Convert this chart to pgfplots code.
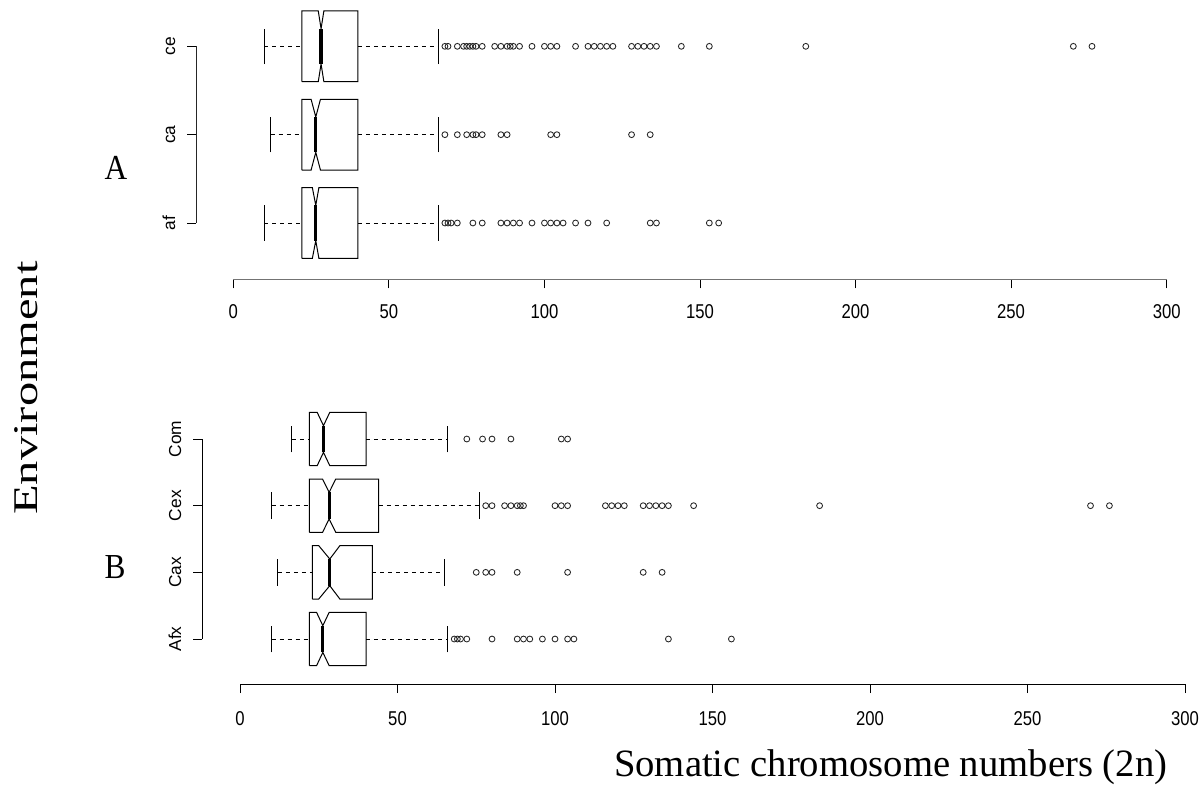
\documentclass[border=0pt]{standalone}
\usepackage{fontspec}
\setmainfont{Liberation Serif}
\setsansfont{Liberation Sans}
\usepackage{pgfplots}
\pgfplotsset{compat=1.18}
\pgfplotsset{
  rax/.style={
    axis x line*=bottom, axis y line*=left,
    axis line style={draw=none},
    xtick={0,50,100,150,200,250,300},
    tick align=outside, major tick length=6.75pt,
    tick style={black, line width=0.75pt},
    /pgf/number format/assume math mode=true,
    xticklabel style={font=\sffamily\fontsize{12.5}{15}\selectfont, anchor=base, yscale=1.2, inner sep=0pt},
    yticklabel style={font=\sffamily\fontsize{13}{15}\selectfont, xshift=-9pt, rotate=90, anchor=base, inner sep=0pt},
    clip=false,
  },
  boxl/.style={black, line width=0.75pt, no markers},
  medl/.style={black, line width=2.4pt, no markers},
  whl/.style={black, line width=0.75pt, dash pattern=on 3pt off 3pt, no markers},
  outl/.style={only marks, mark=o, mark size=2.2pt, mark options={black!85, line width=0.65pt, solid}},
}
\begin{document}
\begin{tikzpicture}
\path (0pt,0pt) rectangle (900.75pt,-588pt);

% ---------------- Panel A ----------------
\begin{axis}[rax,
  at={(147.0pt,-209.475pt)}, anchor=south west,
  x=2.3333pt, y=66.25pt,
  xmin=-12, xmax=305, ymin=0.3626, ymax=3.5,
  ytick={1,2,3}, yticklabels={af,ca,ce},
  xticklabel style={yshift=-18.75pt},
]
\draw[black!55, line width=1.2pt] (axis cs:0,0.3626) -- (axis cs:300,0.3626);
\draw[black!85, line width=0.75pt] (axis cs:-12,1) -- (axis cs:-12,3);
% ce (y=3)
\addplot[whl] coordinates {(10,3) (22,3)};
\addplot[whl] coordinates {(40,3) (66,3)};
\addplot[boxl] coordinates {(10,2.8) (10,3.2)};
\addplot[boxl] coordinates {(66,2.8) (66,3.2)};
\addplot[boxl] coordinates {(22,2.6) (27.3,2.6) (28.2,2.8) (29.1,2.6) (40,2.6) (40,3.4) (29.1,3.4) (28.2,3.2) (27.3,3.4) (22,3.4) (22,2.6)};
\addplot[medl] coordinates {(28.2,2.8) (28.2,3.2)};
\addplot[outl] coordinates {(68,3) (69,3) (72,3) (74,3) (75,3) (76,3) (77,3) (78,3) (80,3) (84,3) (86,3) (88,3) (89,3) (90,3) (92,3) (96,3) (100,3) (102,3) (104,3) (110,3) (114,3) (116,3) (118,3) (120,3) (122,3) (128,3) (130,3) (132,3) (134,3) (136,3) (144,3) (153,3) (184,3) (270,3) (276,3)};
% ca (y=2)
\addplot[whl] coordinates {(12,2) (22,2)};
\addplot[whl] coordinates {(40,2) (66,2)};
\addplot[boxl] coordinates {(12,1.8) (12,2.2)};
\addplot[boxl] coordinates {(66,1.8) (66,2.2)};
\addplot[boxl] coordinates {(22,1.6) (25,1.6) (26.5,1.8) (28,1.6) (40,1.6) (40,2.4) (28,2.4) (26.5,2.2) (25,2.4) (22,2.4) (22,1.6)};
\addplot[medl] coordinates {(26.5,1.8) (26.5,2.2)};
\addplot[outl] coordinates {(68,2) (72,2) (75,2) (77,2) (78,2) (80,2) (86,2) (88,2) (102,2) (104,2) (128,2) (134,2)};
% af (y=1)
\addplot[whl] coordinates {(10,1) (22,1)};
\addplot[whl] coordinates {(40,1) (66,1)};
\addplot[boxl] coordinates {(10,0.8) (10,1.2)};
\addplot[boxl] coordinates {(66,0.8) (66,1.2)};
\addplot[boxl] coordinates {(22,0.6) (25.4,0.6) (26.5,0.8) (27.5,0.6) (40,0.6) (40,1.4) (27.5,1.4) (26.5,1.2) (25.4,1.4) (22,1.4) (22,0.6)};
\addplot[medl] coordinates {(26.5,0.8) (26.5,1.2)};
\addplot[outl] coordinates {(68,1) (69,1) (70,1) (72,1) (77,1) (80,1) (86,1) (88,1) (90,1) (92,1) (96,1) (100,1) (102,1) (104,1) (106,1) (110,1) (114,1) (120,1) (134,1) (136,1) (153,1) (156,1)};
\end{axis}

% ---------------- Panel B ----------------
\begin{axis}[rax,
  at={(151.65pt,-513pt)}, anchor=south west,
  x=2.3625pt, y=50pt,
  xmin=-12, xmax=302, ymin=0.325, ymax=4.5,
  ytick={1,2,3,4}, yticklabels={Afx,Cax,Cex,Com},
  xticklabel style={yshift=-20.25pt},
]
\draw[black, line width=0.75pt] (axis cs:0,0.325) -- (axis cs:300,0.325);
\draw[black, line width=0.75pt] (axis cs:-12,1) -- (axis cs:-12,4);
% Com (y=4)
\addplot[whl] coordinates {(16.5,4) (22,4)};
\addplot[whl] coordinates {(40,4) (66,4)};
\addplot[boxl] coordinates {(16.5,3.8) (16.5,4.2)};
\addplot[boxl] coordinates {(66,3.8) (66,4.2)};
\addplot[boxl] coordinates {(22,3.6) (24.5,3.6) (26.5,3.8) (28.5,3.6) (40,3.6) (40,4.4) (28.5,4.4) (26.5,4.2) (24.5,4.4) (22,4.4) (22,3.6)};
\addplot[medl] coordinates {(26.5,3.8) (26.5,4.2)};
\addplot[outl] coordinates {(72,4) (77,4) (80,4) (86,4) (102,4) (104,4)};
% Cex (y=3)
\addplot[whl] coordinates {(10,3) (22,3)};
\addplot[whl] coordinates {(44,3) (76,3)};
\addplot[boxl] coordinates {(10,2.8) (10,3.2)};
\addplot[boxl] coordinates {(76,2.8) (76,3.2)};
\addplot[boxl] coordinates {(22,2.6) (26.2,2.6) (28.3,2.8) (30.4,2.6) (44,2.6) (44,3.4) (30.4,3.4) (28.3,3.2) (26.2,3.4) (22,3.4) (22,2.6)};
\addplot[medl] coordinates {(28.3,2.8) (28.3,3.2)};
\addplot[outl] coordinates {(78,3) (80,3) (84,3) (86,3) (88,3) (89,3) (90,3) (100,3) (102,3) (104,3) (116,3) (118,3) (120,3) (122,3) (128,3) (130,3) (132,3) (134,3) (136,3) (144,3) (184,3) (270,3) (276,3)};
% Cax (y=2)
\addplot[whl] coordinates {(12,2) (23,2)};
\addplot[whl] coordinates {(42,2) (65,2)};
\addplot[boxl] coordinates {(12,1.8) (12,2.2)};
\addplot[boxl] coordinates {(65,1.8) (65,2.2)};
\addplot[boxl] coordinates {(23,1.6) (25,1.6) (28.5,1.8) (31.7,1.6) (42,1.6) (42,2.4) (31.7,2.4) (28.5,2.2) (25,2.4) (23,2.4) (23,1.6)};
\addplot[medl] coordinates {(28.5,1.8) (28.5,2.2)};
\addplot[outl] coordinates {(75,2) (78,2) (80,2) (88,2) (104,2) (128,2) (134,2)};
% Afx (y=1)
\addplot[whl] coordinates {(10,1) (22,1)};
\addplot[whl] coordinates {(40,1) (66,1)};
\addplot[boxl] coordinates {(10,0.8) (10,1.2)};
\addplot[boxl] coordinates {(66,0.8) (66,1.2)};
\addplot[boxl] coordinates {(22,0.6) (24.3,0.6) (26.3,0.8) (28.3,0.6) (40,0.6) (40,1.4) (28.3,1.4) (26.3,1.2) (24.3,1.4) (22,1.4) (22,0.6)};
\addplot[medl] coordinates {(26.3,0.8) (26.3,1.2)};
\addplot[outl] coordinates {(68,1) (69,1) (70,1) (72,1) (80,1) (88,1) (90,1) (92,1) (96,1) (100,1) (104,1) (106,1) (136,1) (156,1)};
\end{axis}

% ---------------- Texts ----------------
\node[font=\fontsize{23.5}{26}\selectfont, yscale=1.12, inner sep=0pt] at (87pt,-126pt) {A};
\node[font=\fontsize{23.5}{26}\selectfont, yscale=1.12, inner sep=0pt] at (86.25pt,-425.25pt) {B};
\node[font=\fontsize{26}{30}\selectfont, yscale=1.4, rotate=90, inner sep=0pt] at (19.5pt,-291pt) {Environment};
\node[font=\fontsize{29}{33}\selectfont, anchor=base, inner sep=0pt] at (668pt,-582pt) {Somatic chromosome numbers (2n)};
\end{tikzpicture}
\end{document}
